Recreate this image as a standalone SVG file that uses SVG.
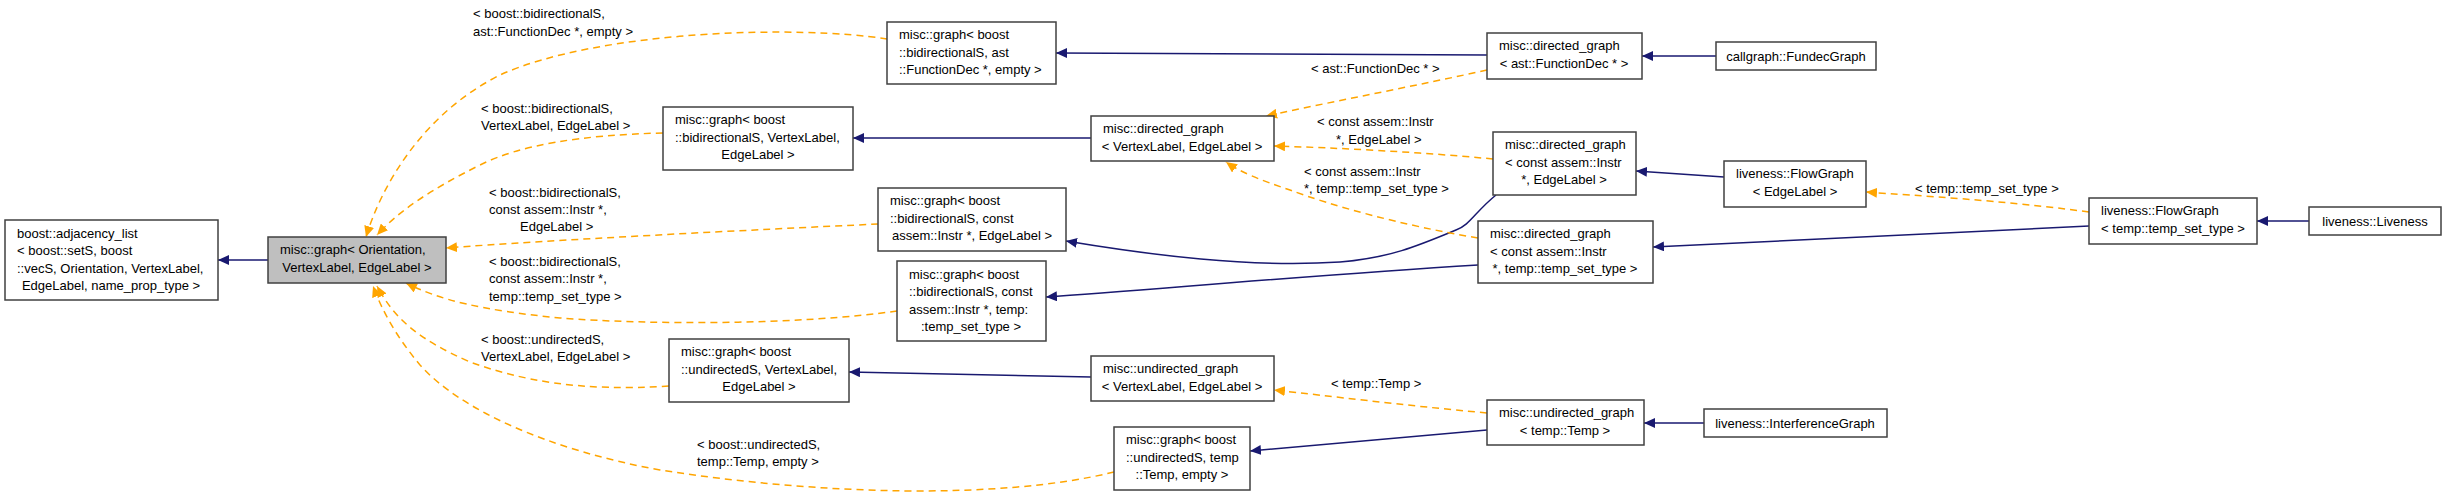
<svg xmlns="http://www.w3.org/2000/svg" width="2445" height="498" viewBox="0 0 2445 498">
<style>
text{font-family:"Liberation Sans",Arial,sans-serif;font-size:13px;fill:#000}
.n rect{fill:#fff;stroke:#404040;stroke-width:1.5}
.n.g rect{fill:#bfbfbf}
.c{text-anchor:middle}
.b{fill:none;stroke:#191970;stroke-width:1.5}
.o{fill:none;stroke:#ffa500;stroke-width:1.5;stroke-dasharray:7,5}
</style>
<defs>
<marker id="ab" markerUnits="userSpaceOnUse" markerWidth="12" markerHeight="10" refX="11" refY="5" orient="auto"><path d="M0,0 L11,5 L0,10 z" fill="#191970"/></marker>
<marker id="ao" markerUnits="userSpaceOnUse" markerWidth="12" markerHeight="10" refX="11" refY="5" orient="auto"><path d="M0,0 L11,5 L0,10 z" fill="#ffa500"/></marker>
</defs>
<g id="connectors">
<path class="b" marker-end="url(#ab)" d="M268,260 L218,260"/>
<path class="b" marker-end="url(#ab)" d="M1487,55 L1056,53"/>
<path class="b" marker-end="url(#ab)" d="M1091,138 L853,138"/>
<path class="b" marker-end="url(#ab)" d="M1496,195 C1475,212 1470,225 1456,230 C1420,245 1390,258 1340,262 C1250,268 1150,255 1066,241"/>
<path class="b" marker-end="url(#ab)" d="M1478,265 C1300,276 1150,290 1046,297"/>
<path class="b" marker-end="url(#ab)" d="M1091,377 L849,372"/>
<path class="b" marker-end="url(#ab)" d="M1487,430 L1250,451"/>
<path class="b" marker-end="url(#ab)" d="M1716,56 L1642,56"/>
<path class="b" marker-end="url(#ab)" d="M1724,177 L1636,171"/>
<path class="b" marker-end="url(#ab)" d="M2089,226 L1653,247"/>
<path class="b" marker-end="url(#ab)" d="M2309,221 L2257,221"/>
<path class="b" marker-end="url(#ab)" d="M1704,423 L1644,423"/>
<path class="o" marker-end="url(#ao)" d="M887,39 C800,25 600,30 500,75 C420,115 380,190 366,237"/>
<path class="o" marker-end="url(#ao)" d="M663,133 C580,135 520,145 480,165 C430,190 400,210 377,235"/>
<path class="o" marker-end="url(#ao)" d="M878,224 C750,230 550,240 446,248"/>
<path class="o" marker-end="url(#ao)" d="M897,311 C800,325 650,325 560,318 C480,310 440,300 406,283"/>
<path class="o" marker-end="url(#ao)" d="M669,386 C580,392 520,380 470,362 C420,340 395,320 377,286"/>
<path class="o" marker-end="url(#ao)" d="M1114,472 C1000,500 820,495 660,470 C550,450 460,410 420,365 C395,335 382,310 373,286"/>
<path class="o" marker-end="url(#ao)" d="M1487,70 C1420,85 1340,100 1266,116"/>
<path class="o" marker-end="url(#ao)" d="M1493,159 C1420,152 1340,148 1274,146"/>
<path class="o" marker-end="url(#ao)" d="M1478,238 C1400,225 1330,205 1290,190 C1260,180 1240,172 1226,162"/>
<path class="o" marker-end="url(#ao)" d="M2089,212 C2000,200 1920,196 1866,192"/>
<path class="o" marker-end="url(#ao)" d="M1487,413 C1400,405 1330,396 1274,390"/>
<text x="473" y="18">&lt; boost::bidirectionalS,</text>
<text x="473" y="36">ast::FunctionDec *, empty &gt;</text>
<text x="481" y="113">&lt; boost::bidirectionalS,</text>
<text x="481" y="130">VertexLabel, EdgeLabel &gt;</text>
<text x="489" y="197">&lt; boost::bidirectionalS,</text>
<text x="489" y="214">const assem::Instr *,</text>
<text x="520" y="231">EdgeLabel &gt;</text>
<text x="489" y="266">&lt; boost::bidirectionalS,</text>
<text x="489" y="283">const assem::Instr *,</text>
<text x="489" y="301">temp::temp_set_type &gt;</text>
<text x="481" y="344">&lt; boost::undirectedS,</text>
<text x="481" y="361">VertexLabel, EdgeLabel &gt;</text>
<text x="697" y="449">&lt; boost::undirectedS,</text>
<text x="697" y="466">temp::Temp, empty &gt;</text>
<text x="1311" y="73">&lt; ast::FunctionDec * &gt;</text>
<text x="1317" y="126">&lt; const assem::Instr</text>
<text x="1336" y="144">*, EdgeLabel &gt;</text>
<text x="1304" y="176">&lt; const assem::Instr</text>
<text x="1304" y="193">*, temp::temp_set_type &gt;</text>
<text x="1915" y="193">&lt; temp::temp_set_type &gt;</text>
<text x="1331" y="388">&lt; temp::Temp &gt;</text>
</g>
<g id="n1" class="n"><rect x="5" y="220" width="213" height="80"/><text x="17" y="238">boost::adjacency_list</text><text x="17" y="255">&lt; boost::setS, boost</text><text x="17" y="273">::vecS, Orientation, VertexLabel,</text><text class="c" x="111" y="290">EdgeLabel, name_prop_type &gt;</text></g>
<g id="n2" class="n g"><rect x="268" y="237" width="178" height="46"/><text x="280" y="254">misc::graph&lt; Orientation,</text><text class="c" x="357" y="272">VertexLabel, EdgeLabel &gt;</text></g>
<g id="n3" class="n"><rect x="887" y="22" width="169" height="62"/><text x="899" y="39">misc::graph&lt; boost</text><text x="899" y="57">::bidirectionalS, ast</text><text x="899" y="74">::FunctionDec *, empty &gt;</text></g>
<g id="n4" class="n"><rect x="663" y="107" width="190" height="63"/><text x="675" y="124">misc::graph&lt; boost</text><text x="675" y="142">::bidirectionalS, VertexLabel,</text><text class="c" x="758" y="159">EdgeLabel &gt;</text></g>
<g id="n5" class="n"><rect x="1091" y="116" width="183" height="45"/><text x="1103" y="133">misc::directed_graph</text><text class="c" x="1182" y="151">&lt; VertexLabel, EdgeLabel &gt;</text></g>
<g id="n6" class="n"><rect x="878" y="188" width="188" height="63"/><text x="890" y="205">misc::graph&lt; boost</text><text x="890" y="223">::bidirectionalS, const</text><text class="c" x="972" y="240">assem::Instr *, EdgeLabel &gt;</text></g>
<g id="n7" class="n"><rect x="897" y="261" width="149" height="80"/><text x="909" y="279">misc::graph&lt; boost</text><text x="909" y="296">::bidirectionalS, const</text><text x="909" y="314">assem::Instr *, temp:</text><text class="c" x="971" y="331">:temp_set_type &gt;</text></g>
<g id="n8" class="n"><rect x="669" y="339" width="180" height="63"/><text x="681" y="356">misc::graph&lt; boost</text><text x="681" y="374">::undirectedS, VertexLabel,</text><text class="c" x="759" y="391">EdgeLabel &gt;</text></g>
<g id="n9" class="n"><rect x="1091" y="356" width="183" height="45"/><text x="1103" y="373">misc::undirected_graph</text><text class="c" x="1182" y="391">&lt; VertexLabel, EdgeLabel &gt;</text></g>
<g id="n10" class="n"><rect x="1114" y="427" width="136" height="63"/><text x="1126" y="444">misc::graph&lt; boost</text><text x="1126" y="462">::undirectedS, temp</text><text class="c" x="1182" y="479">::Temp, empty &gt;</text></g>
<g id="n11" class="n"><rect x="1487" y="33" width="155" height="46"/><text x="1499" y="50">misc::directed_graph</text><text class="c" x="1564" y="68">&lt; ast::FunctionDec * &gt;</text></g>
<g id="n12" class="n"><rect x="1716" y="42" width="160" height="28"/><text class="c" x="1796" y="61">callgraph::FundecGraph</text></g>
<g id="n13" class="n"><rect x="1493" y="132" width="143" height="63"/><text x="1505" y="149">misc::directed_graph</text><text x="1505" y="167">&lt; const assem::Instr</text><text class="c" x="1564" y="184">*, EdgeLabel &gt;</text></g>
<g id="n14" class="n"><rect x="1724" y="161" width="142" height="46"/><text x="1736" y="178">liveness::FlowGraph</text><text class="c" x="1795" y="196">&lt; EdgeLabel &gt;</text></g>
<g id="n15" class="n"><rect x="1478" y="221" width="175" height="62"/><text x="1490" y="238">misc::directed_graph</text><text x="1490" y="256">&lt; const assem::Instr</text><text class="c" x="1565" y="273">*, temp::temp_set_type &gt;</text></g>
<g id="n16" class="n"><rect x="2089" y="198" width="168" height="46"/><text x="2101" y="215">liveness::FlowGraph</text><text class="c" x="2173" y="233">&lt; temp::temp_set_type &gt;</text></g>
<g id="n17" class="n"><rect x="2309" y="207" width="132" height="28"/><text class="c" x="2375" y="226">liveness::Liveness</text></g>
<g id="n18" class="n"><rect x="1487" y="400" width="157" height="45"/><text x="1499" y="417">misc::undirected_graph</text><text class="c" x="1565" y="435">&lt; temp::Temp &gt;</text></g>
<g id="n19" class="n"><rect x="1704" y="409" width="183" height="28"/><text class="c" x="1795" y="428">liveness::InterferenceGraph</text></g>
</svg>
